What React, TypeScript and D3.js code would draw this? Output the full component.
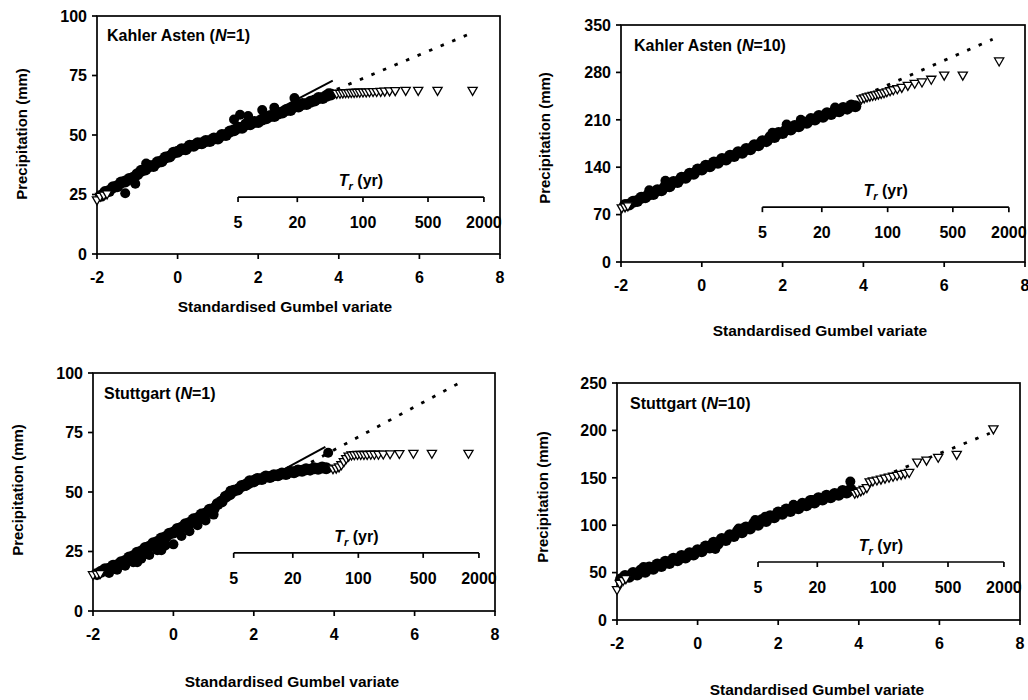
import React from 'react';
import * as d3 from 'd3';

type P = [number, number];

const xTicks = [-2, 0, 2, 4, 6, 8];
const returnPeriods = [5, 20, 100, 500, 2000];
const xTitle = 'Standardised Gumbel variate';
const yTitle = 'Precipitation (mm)';

// ---------- Kahler Asten (N=1) ----------
const kaN1Ticks = [0, 25, 50, 75, 100];
const kaN1Obs: P[] = [[-1.9,24.5],[-1.8,26],[-1.7,26.5],[-1.6,28],[-1.5,28.5],[-1.4,30],[-1.3,30.5],[-1.2,31.5],[-1.1,32],[-1.0,33.5],[-0.9,35],[-0.8,35.5],[-0.7,37],[-0.6,37],[-0.5,38.5],[-0.4,39],[-0.3,40.5],[-0.2,41],[-0.1,42.5],[0,43],[0.1,44],[0.2,44],[0.3,45.5],[0.4,45.5],[0.5,46.5],[0.6,46.5],[0.7,47.5],[0.8,47.5],[0.9,48.5],[1.0,48.5],[1.1,50],[1.2,50],[1.3,51.5],[1.4,52],[1.5,53],[1.6,53],[1.7,54.5],[1.8,54.5],[1.9,55.5],[2.0,55.5],[2.1,56.5],[2.2,57],[2.3,58],[2.4,58],[2.5,59],[2.6,59.5],[2.7,60.5],[2.8,60.5],[2.9,62],[3.0,62],[3.1,63],[3.2,63],[3.3,64],[3.4,64.5],[3.5,65.5],[3.6,65.5],[3.7,66.5],[3.8,67]];
const kaN1Out: P[] = [[-1.3,25.5],[-1.05,29.5],[-0.78,38],[1.4,56.5],[1.55,58.5],[1.75,58],[2.1,60.5],[2.4,61.5],[2.9,65.5],[3.75,67.5]];
const kaN1Sim: P[] = [[-2,22.5],[-1.92,24],[-1.83,24.5],[-1.75,25],[3.95,67.2],[4.03,67.3],[4.1,67.4],[4.17,67.5],[4.24,67.5],[4.31,67.6],[4.38,67.6],[4.45,67.7],[4.52,67.7],[4.6,67.8],[4.68,67.8],[4.76,67.9],[4.85,68],[4.94,68],[5.04,68.1],[5.14,68.2],[5.26,68.3],[5.4,68.4],[5.66,68.5],[5.97,68.5],[6.45,68.5],[7.32,68.5]];
const kaN1Fit: P[] = [[2.0,56.5],[3.85,72.8]];
const kaN1Ext: P[] = [[3.95,69.2],[7.25,92.5]];

// ---------- Kahler Asten (N=10) ----------
const kaN10Ticks = [0, 70, 140, 210, 280, 350];
const kaN10Obs: P[] = [[-1.9,84],[-1.8,85],[-1.7,89],[-1.6,90],[-1.5,95],[-1.4,95.5],[-1.3,100],[-1.2,100.5],[-1.1,106],[-1.0,106],[-0.9,112],[-0.8,112],[-0.7,118],[-0.6,118],[-0.5,124.5],[-0.4,124.5],[-0.3,130.5],[-0.2,130.5],[-0.1,136.5],[0,136.5],[0.1,142],[0.2,141.5],[0.3,147],[0.4,146.5],[0.5,152],[0.6,151.5],[0.7,157],[0.8,156.5],[0.9,162],[1.0,161.5],[1.1,167],[1.2,166.5],[1.3,172.5],[1.4,172.5],[1.5,178.5],[1.6,178.5],[1.7,184.5],[1.8,184.5],[1.9,190.5],[2.0,190.5],[2.1,196],[2.2,195.5],[2.3,201],[2.4,200.5],[2.5,206],[2.6,205.5],[2.7,211],[2.8,210.5],[2.9,215.5],[3.0,214.5],[3.1,219.5],[3.2,218.5],[3.3,223.5],[3.4,222.5],[3.5,227.5],[3.6,226.5],[3.7,231],[3.8,230]];
const kaN10Out: P[] = [[-1.3,106],[-0.9,120],[1.75,191],[2.1,203],[2.45,210],[3.3,228]];
const kaN10Sim: P[] = [[-1.98,79],[-1.9,80.5],[-1.83,82],[3.95,240],[4.02,241.5],[4.09,243],[4.16,244],[4.23,245],[4.3,246],[4.37,247],[4.44,248],[4.51,249],[4.58,250.5],[4.66,252],[4.74,253.5],[4.84,255],[4.95,257],[5.1,260],[5.27,263],[5.45,265],[5.68,269],[6.0,275],[6.46,275],[7.36,296]];
const kaN10Fit: P[] = [];
const kaN10Ext: P[] = [[4.3,253.5],[7.2,329]];

// ---------- Stuttgart (N=1) ----------
const stN1Ticks = [0, 25, 50, 75, 100];
const stN1Obs: P[] = [[-1.9,15.5],[-1.8,16.5],[-1.7,17.5],[-1.6,17.8],[-1.5,19],[-1.4,19.2],[-1.3,20.5],[-1.2,21],[-1.1,22.5],[-1.0,23],[-0.9,24.5],[-0.8,25],[-0.7,26.5],[-0.6,27],[-0.5,28.5],[-0.4,29],[-0.3,30.5],[-0.2,31],[-0.1,32.5],[0,33],[0.1,34.5],[0.2,35],[0.3,36.5],[0.4,37],[0.5,38.5],[0.6,39],[0.7,40.5],[0.8,41],[0.9,42.5],[1.0,43],[1.1,45],[1.2,46],[1.3,48],[1.4,49],[1.5,50.5],[1.6,51],[1.7,52.5],[1.8,53],[1.9,54.5],[2.0,54.5],[2.1,55.5],[2.2,55.5],[2.3,56.5],[2.4,56.3],[2.5,57],[2.6,57],[2.7,57.8],[2.8,57.6],[2.9,58.5],[3.0,58.3],[3.1,59],[3.2,58.9],[3.3,59.6],[3.4,59.4],[3.5,60],[3.6,59.8],[3.7,60.3],[3.8,60]];
const stN1Out: P[] = [[-1.6,16],[-1.4,17.3],[-1.2,19],[-1.0,20.5],[-0.9,20.5],[-0.8,22],[-0.6,23.5],[-0.4,25.5],[-0.3,25.5],[-0.2,27.5],[0,28],[0.2,31.5],[0.4,33.5],[0.6,36],[0.8,38],[1.0,40.5],[1.42,50.5],[2.05,55.5],[3.85,66.5]];
const stN1Sim: P[] = [[-2,15],[-1.9,15.2],[-1.82,15.5],[3.97,59.5],[4.05,59.8],[4.12,60.3],[4.18,61.2],[4.24,62.5],[4.3,63.8],[4.36,64.8],[4.43,65.3],[4.5,65.4],[4.58,65.5],[4.66,65.5],[4.74,65.5],[4.82,65.5],[4.91,65.6],[5.0,65.6],[5.1,65.6],[5.22,65.7],[5.39,65.8],[5.62,65.9],[5.97,66],[6.43,66],[7.34,66]];
const stN1Fit: P[] = [[1.8,50.8],[3.78,69]];
const stN1Ext: P[] = [[3.15,60],[7.1,95.7]];

// ---------- Stuttgart (N=10) ----------
const stN10Ticks = [0, 50, 100, 150, 200, 250];
const stN10Obs: P[] = [[-1.9,43],[-1.8,46.5],[-1.7,45.5],[-1.6,49.5],[-1.5,48],[-1.4,52.5],[-1.3,51],[-1.2,55.5],[-1.1,54],[-1.0,58.5],[-0.9,57],[-0.8,61.5],[-0.7,60],[-0.6,64.5],[-0.5,63],[-0.4,67.5],[-0.3,66],[-0.2,70.5],[-0.1,69],[0,73.5],[0.1,72.5],[0.2,77.5],[0.3,76.5],[0.4,81.5],[0.5,80.5],[0.6,85.5],[0.7,84.5],[0.8,89.5],[0.9,88.5],[1.0,93.5],[1.1,92.5],[1.2,97.5],[1.3,96.5],[1.4,101.5],[1.5,100.5],[1.6,105.5],[1.7,104.5],[1.8,109.5],[1.9,108.5],[2.0,113.5],[2.1,112],[2.2,116.5],[2.3,115],[2.4,119.5],[2.5,118],[2.6,122.5],[2.7,121],[2.8,125.5],[2.9,124],[3.0,128.5],[3.1,127],[3.2,131],[3.3,129.5],[3.4,133],[3.5,132],[3.6,136],[3.7,134.5],[3.8,137.5]];
const stN10Out: P[] = [[-1.34,56],[0.44,75],[1.02,96.5],[1.43,105.5],[1.68,109],[2.05,114],[2.38,121.5],[2.84,126.5],[3.79,146]];
const stN10Sim: P[] = [[-2,31.5],[-1.93,38],[-1.85,41],[-1.78,43],[3.9,133],[3.97,134],[4.05,135.5],[4.12,137],[4.2,139],[4.27,145],[4.35,146],[4.45,147],[4.55,148],[4.65,149],[4.75,150],[4.85,151],[4.95,152],[5.05,153],[5.15,154],[5.25,155],[5.45,166],[5.68,168],[5.97,171],[6.43,174],[7.34,201]];
const stN10Fit: P[] = [[2.0,113],[3.82,142]];
const stN10Ext: P[] = [[4.3,146.5],[7.25,197]];

type PanelData = { station: string; n: string; yTicks: number[]; obs: P[]; out: P[]; sim: P[]; fit: P[]; ext: P[]; insetY: number };

const panels: PanelData[] = [
  { station: 'Kahler Asten', n: '1', yTicks: kaN1Ticks, obs: kaN1Obs, out: kaN1Out, sim: kaN1Sim, fit: kaN1Fit, ext: kaN1Ext, insetY: 23.9 },
  { station: 'Kahler Asten', n: '10', yTicks: kaN10Ticks, obs: kaN10Obs, out: kaN10Out, sim: kaN10Sim, fit: kaN10Fit, ext: kaN10Ext, insetY: 81 },
  { station: 'Stuttgart', n: '1', yTicks: stN1Ticks, obs: stN1Obs, out: stN1Out, sim: stN1Sim, fit: stN1Fit, ext: stN1Ext, insetY: 24.4 },
  { station: 'Stuttgart', n: '10', yTicks: stN10Ticks, obs: stN10Obs, out: stN10Out, sim: stN10Sim, fit: stN10Fit, ext: stN10Ext, insetY: 61.2 },
];

const layouts = [
  { x0: 97, x1: 500, yTop: 16, yBot: 254, yTX: 22, yTY: 134, xTX: 285, xTY: 312, lX: 107, lY: 41 },
  { x0: 621, x1: 1025, yTop: 25, yBot: 262, yTX: 545, yTY: 138, xTX: 820, xTY: 336, lX: 634, lY: 51 },
  { x0: 93, x1: 495, yTop: 373, yBot: 611, yTX: 18, yTY: 490, xTX: 292, xTY: 687, lX: 104, lY: 399 },
  { x0: 617, x1: 1020, yTop: 383, yBot: 620, yTX: 543, yTY: 497, xTX: 817, xTY: 695, lX: 630, lY: 409 },
];

const FONT = '"Liberation Sans", Arial, Helvetica, sans-serif';
const gumbel = (T: number) => -Math.log(-Math.log(1 - 1 / T));
const tri = 'M-4.6,-3.6L4.6,-3.6L0,4.4Z';

function Panel({ d, L }: { d: PanelData; L: typeof layouts[number] }) {
  const x = d3.scaleLinear().domain([-2, 8]).range([L.x0, L.x1]);
  const y = d3.scaleLinear().domain([0, d.yTicks[d.yTicks.length - 1]]).range([L.yBot, L.yTop]);
  const line = d3.line<P>().x(p => x(p[0])).y(p => y(p[1]));
  const iy = y(d.insetY);
  const ix0 = x(gumbel(returnPeriods[0]));
  const ix1 = x(gumbel(returnPeriods[returnPeriods.length - 1]));
  return (
    <g>
      <rect x={L.x0} y={L.yTop} width={L.x1 - L.x0} height={L.yBot - L.yTop} fill="none" stroke="#000" strokeWidth={1.7} />
      {d.yTicks.map(t => (
        <g key={'y' + t}>
          <line x1={L.x0 - 5} x2={L.x0} y1={y(t)} y2={y(t)} stroke="#000" strokeWidth={1.7} />
          <text x={L.x0 - 10} y={y(t)} dy="0.36em" textAnchor="end" fontSize={16} fontWeight="bold">{t}</text>
        </g>
      ))}
      {xTicks.map(t => (
        <g key={'x' + t}>
          <line x1={x(t)} x2={x(t)} y1={L.yBot} y2={L.yBot + 5} stroke="#000" strokeWidth={1.7} />
          <text x={x(t)} y={L.yBot + 29} textAnchor="middle" fontSize={16} fontWeight="bold">{t}</text>
        </g>
      ))}
      <text x={L.xTX} y={L.xTY} textAnchor="middle" fontSize={15.5} fontWeight="bold">{xTitle}</text>
      <text transform={`translate(${L.yTX},${L.yTY}) rotate(-90)`} textAnchor="middle" dy="0.36em" fontSize={15} fontWeight="bold">{yTitle}</text>
      <text x={L.lX} y={L.lY} fontSize={16} fontWeight="bold">{d.station} (<tspan fontStyle="italic">N</tspan>={d.n})</text>
      {/* return period inset axis */}
      <line x1={ix0} x2={ix1} y1={iy} y2={iy} stroke="#000" strokeWidth={1.7} />
      {returnPeriods.map(T => (
        <g key={'T' + T}>
          <line x1={x(gumbel(T))} x2={x(gumbel(T))} y1={iy} y2={iy + 5} stroke="#000" strokeWidth={1.7} />
          <text x={x(gumbel(T))} y={iy + 31} textAnchor="middle" fontSize={16} fontWeight="bold">{T}</text>
        </g>
      ))}
      <text x={(ix0 + ix1) / 2} y={iy - 11} textAnchor="middle" fontSize={16} fontWeight="bold">
        <tspan fontStyle="italic">T</tspan><tspan fontStyle="italic" fontSize={11} dy={4}>r</tspan><tspan dy={-4}> (yr)</tspan>
      </text>
      {/* data */}
      {d.obs.map((p, i) => (
        <circle key={'o' + i} cx={x(p[0])} cy={y(p[1])} r={6} fill="#000" />
      ))}
      {d.out.map((p, i) => (
        <circle key={'u' + i} cx={x(p[0])} cy={y(p[1])} r={5} fill="#000" />
      ))}
      {d.ext.length > 1 && <path d={line(d.ext) || ''} fill="none" stroke="#000" strokeWidth={2.8} strokeDasharray="3.5 9" />}
      {d.fit.length > 1 && <path d={line(d.fit) || ''} fill="none" stroke="#000" strokeWidth={2} />}
      {d.sim.map((p, i) => (
        <path key={'s' + i} d={tri} transform={`translate(${x(p[0])},${y(p[1])})`} fill="#fff" stroke="#000" strokeWidth={1.3} />
      ))}
    </g>
  );
}

export default function App() {
  return (
    <svg width={1028} height={700} style={{ position: 'absolute', left: 0, top: 0, background: '#fff' }} fontFamily={FONT}>
      <rect width={1028} height={700} fill="#fff" />
      {panels.map((p, i) => <Panel key={i} d={p} L={layouts[i]} />)}
    </svg>
  );
}
